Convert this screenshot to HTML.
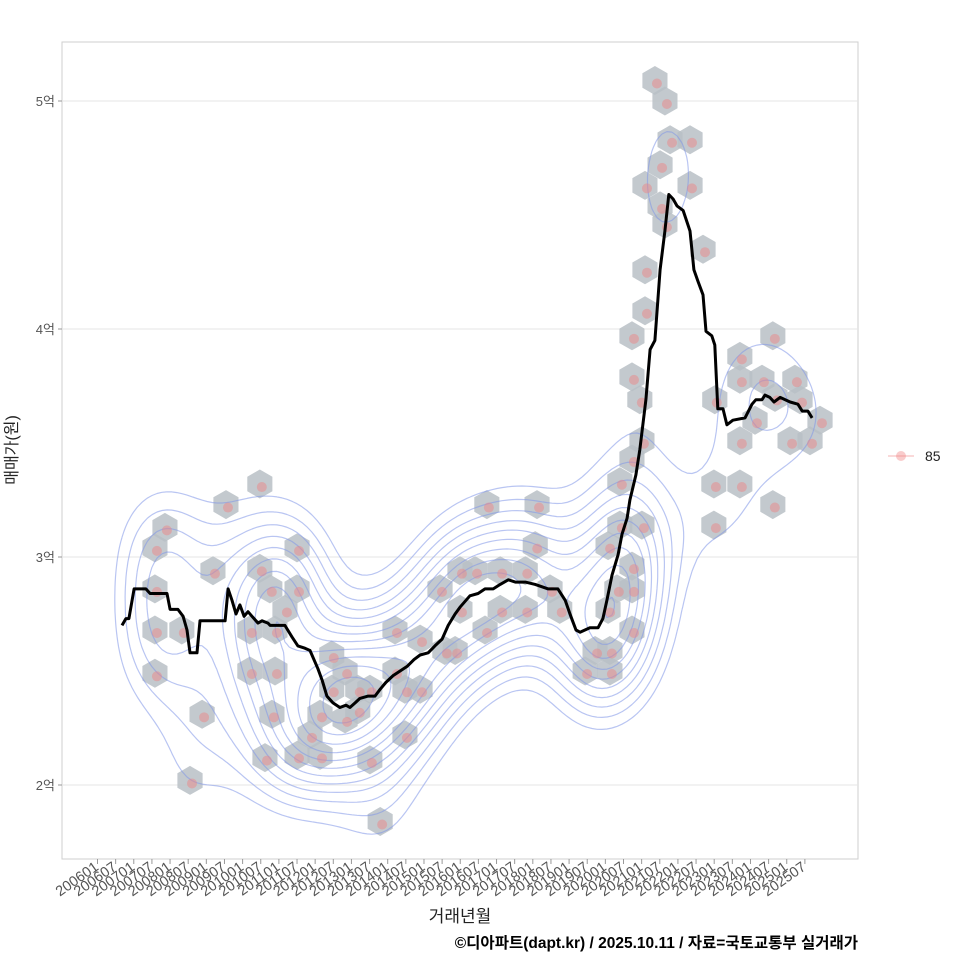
<!DOCTYPE html>
<html><head><meta charset="utf-8"><style>
body{margin:0;background:#fff}
svg{font-family:"Liberation Sans","Noto Sans CJK KR",sans-serif;display:block}
</style></head><body>
<svg id="chart" width="960" height="960" viewBox="0 0 960 960">
<rect x="0" y="0" width="960" height="960" fill="#fff"/>
<rect x="62" y="42" width="796" height="817" fill="#fff" stroke="#cfcfcf"/>
<g id="grid"></g>
<g id="hexes"></g>
<g id="contours"></g>
<g id="points"></g>
<g id="line"></g>
<g id="axes"></g>
<text x="17" y="450" transform="rotate(-90 17 450)" text-anchor="middle" font-size="16" fill="#222">매매가(원)</text>
<text x="460" y="922" text-anchor="middle" font-size="17" fill="#222">거래년월</text>
<text x="858" y="948" text-anchor="end" font-size="15.5" font-weight="bold" fill="#000">©디아파트(dapt.kr) / 2025.10.11 / 자료=국토교통부 실거래가</text>
<g>
<line x1="888" y1="456" x2="914" y2="456" stroke="#f08080" stroke-opacity="0.6"/>
<circle cx="901" cy="456" r="5" fill="#f08080" fill-opacity="0.4"/>
<text x="925" y="461" font-size="14" fill="#222">85</text>
</g>
</svg>
<script>
// month index from 2006-01; price in 억
const lineMonths=[8.1,9.4,10.4,12.1,16,17.4,23,24,26.6,28.3,29.6,30.6,32.9,33.9,42.2,43.2,44.5,45.8,47.1,48.5,49.8,51.1,53.1,54.4,56.4,57.1,62,64.3,66.3,68.6,70.3,72.9,74.3,75.9,77.9,80.2,82.2,83.5,85.2,86.8,89.5,91.8,93.5,95.4,97.8,100.1,102.4,104.7,106.7,109.4,111.6,114,116,118.3,119.9,123.2,125.9,128.2,130.9,133.2,135.9,138.2,141.5,144.8,149.1,152.3,154.7,156.3,158.3,159.6,162.9,165.6,167.2,168.5,170.2,172.2,173.5,175.2,176.1,178.1,179.4,181.4,182.8,184.4,186.1,187.7,189,190.4,191.7,193.7,196,197.3,198.6,200.3,201.3,203.2,204.2,205.2,206.9,208.2,210.2,214.2,216.5,217.8,219.8,220.8,222.4,223.8,225.8,229.1,231.7,233.1,235,236.4];
const linePrices=[2.70,2.73,2.73,2.86,2.86,2.84,2.84,2.77,2.77,2.74,2.68,2.58,2.58,2.72,2.72,2.86,2.81,2.75,2.79,2.74,2.76,2.74,2.71,2.72,2.71,2.70,2.70,2.65,2.61,2.60,2.59,2.51,2.46,2.39,2.36,2.34,2.35,2.34,2.36,2.38,2.39,2.39,2.42,2.45,2.48,2.50,2.52,2.55,2.57,2.58,2.61,2.64,2.70,2.75,2.78,2.83,2.84,2.86,2.86,2.88,2.90,2.89,2.89,2.88,2.86,2.86,2.81,2.75,2.68,2.67,2.69,2.69,2.73,2.81,2.92,3.01,3.10,3.17,3.25,3.36,3.47,3.69,3.91,3.95,4.26,4.43,4.59,4.57,4.54,4.52,4.43,4.26,4.21,4.15,3.99,3.97,3.93,3.65,3.65,3.58,3.60,3.61,3.67,3.69,3.69,3.71,3.70,3.68,3.70,3.68,3.67,3.64,3.64,3.61];
const hexMonths=[184.4,187.7,189.4,196,186.1,181.1,196,186.1,187.7,200.3,181.1,181.1,176.8,176.8,179.4,180.1,176.8,172.8,172.8,180.1,168.9,176.8,171.8,176.8,168.9,176.8,164.6,169.5,161.3,169.5,204.2,212.5,212.5,219.8,224.1,217.5,230.7,232.4,239,229.1,235.7,212.5,223.4,203.9,212.5,203.9,223.4,22.3,19,19,19,27.9,19,42.5,38.2,53.7,53.7,66,66,57,50.4,58.7,50.4,58.7,62,34.6,30.6,57.7,55.4,66,73.6,70.3,73.6,77.5,77.5,86.1,81.9,86.1,90.1,90.1,98.4,98.4,101.7,101.7,106.7,106.7,113.3,114.9,93.5,128.8,145.4,119.9,124.9,133.2,141.5,144.8,149.7,141.5,133.2,119.9,128.2,152.9,118.3,81.9];
const hexPrices=[5.09,5.00,4.83,4.83,4.72,4.63,4.63,4.54,4.46,4.35,4.26,4.08,3.97,3.79,3.69,3.51,3.43,3.33,3.14,3.14,3.05,2.96,2.86,2.86,2.77,2.68,2.59,2.59,2.50,2.50,3.69,3.88,3.78,3.78,3.70,3.60,3.78,3.69,3.60,3.51,3.51,3.51,3.97,3.32,3.32,3.14,3.23,3.13,3.04,2.86,2.68,2.68,2.49,3.23,2.94,3.32,2.95,3.04,2.86,2.86,2.68,2.68,2.50,2.50,2.77,2.31,2.02,2.31,2.12,2.13,2.13,2.22,2.31,2.57,2.42,2.42,2.50,2.33,2.42,2.11,2.68,2.50,2.42,2.22,2.64,2.42,2.86,2.59,1.84,3.23,3.23,2.94,2.94,2.94,2.94,3.05,2.86,2.77,2.77,2.77,2.68,2.77,2.59,2.29];
const yTicks=[2,3,4,5];
const yTickLabels=["2억","3억","4억","5억"];
const xTickLabels=[];
for(let y=2006;y<=2025;y++){xTickLabels.push(y+"01");xTickLabels.push(y+"07");}

const NS="http://www.w3.org/2000/svg";
const X=m=>97.5+m*3.023;
const Y=p=>101+(5-p)*228;
function mk(tag,attrs,parent){const e=document.createElementNS(NS,tag);for(const k in attrs)e.setAttribute(k,attrs[k]);parent.appendChild(e);return e;}
const grid=document.getElementById('grid'),axes=document.getElementById('axes');
yTicks.forEach((t,i)=>{
  const gl=mk('line',{x1:62,x2:858,y1:Y(t),y2:Y(t),stroke:'#e6e6e6'},grid);
  
  
  const tk=mk('line',{x1:58,x2:62,y1:Y(t),y2:Y(t),stroke:'#999'},axes);
  
  
  const tx=mk('text',{x:55,y:Y(t)+5,'text-anchor':'end','font-size':13,fill:'#555'},axes);
  tx.textContent=yTickLabels[i];
  
  
});
xTickLabels.forEach((l,i)=>{
  const x=X(i*6);
  const tk=mk('line',{x1:x,x2:x,y1:859,y2:864,stroke:'#999'},axes);
  
  
  const tx=mk('text',{x:x+2,y:869,'text-anchor':'end','font-size':14.5,fill:'#555',transform:`rotate(-35 ${x+2} 869)`},axes);
  tx.textContent=l;
  
  
});
// hexes
const hg=document.getElementById('hexes');
const R=14.5;
hexMonths.forEach((m,i)=>{
  const cx=X(m),cy=Y(hexPrices[i]);let pts=[];
  for(let k=0;k<6;k++){const a=Math.PI/3*k+Math.PI/6;pts.push((cx+R*Math.cos(a)).toFixed(1)+','+(cy+R*Math.sin(a)).toFixed(1));}
  const h=mk('polygon',{points:pts.join(' '),fill:'#b9bfc6','fill-opacity':0.85},hg);
  
  
});
// KDE contours from hex samples (lower-price cluster dominates density)
const cg=document.getElementById('contours');
const step=5,x0=62,y0=42,nx=Math.ceil(796/step)+1,ny=Math.ceil(817/step)+1;
const bx=34,by=48;const F=[];let mx=0;
const wts=hexPrices.map(p=>p<3.2?1:0.3);
for(let j=0;j<ny;j++){F.push([]);for(let i=0;i<nx;i++){const px=x0+i*step,py=y0+j*step;let s=0;
  for(let k=0;k<hexMonths.length;k++){const dx=(px-X(hexMonths[k]))/bx,dy=(py-Y(hexPrices[k]))/by;s+=wts[k]*Math.exp(-0.5*(dx*dx+dy*dy));}
  F[j].push(s);if(s>mx)mx=s;}}
const levels=[];for(let l=1;l<=12;l++)levels.push(mx*(0.1+0.07*l));
levels.forEach(lv=>{let d='';
  for(let j=0;j<ny-1;j++)for(let i=0;i<nx-1;i++){
    const v=[F[j][i],F[j][i+1],F[j+1][i+1],F[j+1][i]];
    const c=[[0,0],[1,0],[1,1],[0,1]];const pts=[];
    for(let e=0;e<4;e++){const a=v[e],b=v[(e+1)%4];if((a>=lv)!==(b>=lv)){const t=(lv-a)/(b-a);const p=c[e],q=c[(e+1)%4];
      pts.push([x0+(i+p[0]+(q[0]-p[0])*t)*step,y0+(j+p[1]+(q[1]-p[1])*t)*step]);}}
    for(let k=0;k+1<pts.length;k+=2)d+=`M${pts[k][0].toFixed(1)},${pts[k][1].toFixed(1)}L${pts[k+1][0].toFixed(1)},${pts[k+1][1].toFixed(1)}`;
  }
  const p=mk('path',{d:d,fill:'none',stroke:'#7f95e8','stroke-opacity':0.55,'stroke-width':1.2},cg);
  
  
});
// points
const pg=document.getElementById('points');
hexMonths.forEach((m,i)=>{
  const c=mk('circle',{cx:X(m)+2,cy:Y(hexPrices[i])+3,r:5,fill:'#f08080','fill-opacity':0.45},pg);
  
  
});
// line
const lg=document.getElementById('line');
const pl=mk('polyline',{points:lineMonths.map((m,i)=>X(m).toFixed(1)+','+Y(linePrices[i]).toFixed(1)).join(' '),fill:'none',stroke:'#000','stroke-width':3,'stroke-linejoin':'round'},lg);


</script>
</body></html>
